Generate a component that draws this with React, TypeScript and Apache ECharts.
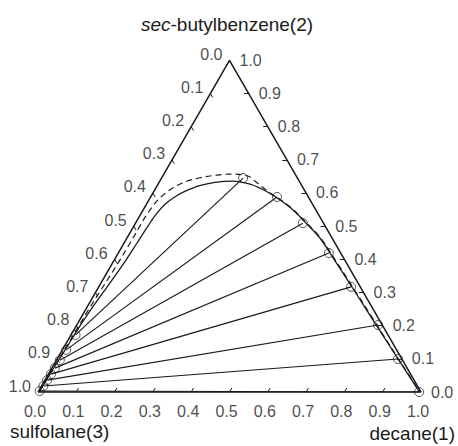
import React, { useEffect, useRef } from "react";
import * as echarts from "echarts";

// Liquid–liquid equilibrium of decane(1) + sec-butylbenzene(2) + sulfolane(3)
// Compositions are mole fractions (x1 = decane, x2 = sec-butylbenzene).

// Experimental tie lines: raffinate (decane-rich) phase
const tieRaffinateX1 = [0.213, 0.33, 0.437, 0.55, 0.659, 0.787, 0.89, 0.995];
const tieRaffinateX2 = [0.645, 0.588, 0.509, 0.419, 0.317, 0.202, 0.0995, 0.0];
// Experimental tie lines: extract (sulfolane-rich) phase
const tieExtractX1 = [0.012, 0.01, 0.009, 0.008, 0.007, 0.006, 0.005, 0.003];
const tieExtractX2 = [0.172, 0.127, 0.096, 0.072, 0.054, 0.036, 0.018, 0.003];

// Calculated binodal curve (solid)
const solidX1 = [
  0.003, 0.004, 0.006, 0.008, 0.01, 0.014, 0.02, 0.026, 0.031, 0.034, 0.037, 0.041,
  0.05, 0.065, 0.08, 0.111, 0.146, 0.19, 0.24, 0.285, 0.332, 0.385, 0.444, 0.503,
  0.573, 0.679, 0.784, 0.89, 0.943, 0.996,
];
const solidX2 = [
  0.0, 0.05, 0.1, 0.15, 0.2, 0.25, 0.3, 0.35, 0.4, 0.45, 0.5, 0.54,
  0.568, 0.59, 0.604, 0.622, 0.632, 0.636, 0.627, 0.609, 0.585, 0.553, 0.51, 0.465,
  0.4, 0.3, 0.2, 0.1, 0.05, 0.0,
];

// Calculated binodal curve (dashed)
const dashedX1 = [
  0.003, 0.004, 0.005, 0.006, 0.007, 0.008, 0.01, 0.013, 0.015, 0.016, 0.016, 0.017,
  0.024, 0.04, 0.065, 0.1, 0.14, 0.175, 0.205, 0.228, 0.256, 0.306, 0.334, 0.387,
  0.446, 0.505, 0.575, 0.681, 0.786, 0.891, 0.944, 0.996,
];
const dashedX2 = [
  0.0, 0.05, 0.1, 0.15, 0.2, 0.25, 0.3, 0.35, 0.4, 0.45, 0.5, 0.54,
  0.58, 0.61, 0.632, 0.646, 0.654, 0.657, 0.655, 0.649, 0.631, 0.6, 0.585, 0.553,
  0.51, 0.465, 0.4, 0.3, 0.2, 0.1, 0.05, 0.0,
];

// Axis graduations
const tickValues = [0, 0.1, 0.2, 0.3, 0.4, 0.5, 0.6, 0.7, 0.8, 0.9, 1.0];
const tickLabels = ["0.0", "0.1", "0.2", "0.3", "0.4", "0.5", "0.6", "0.7", "0.8", "0.9", "1.0"];

const H = Math.sqrt(3) / 2;
// ternary (x1, x2) -> cartesian position inside the unit triangle
const toXY = (x1: number, x2: number): [number, number] => [x1 + x2 / 2, x2 * H];

const FONT = "'Liberation Sans', Arial, Helvetica, sans-serif";
const INK = "#1a1a1a";
const TICK = 0.012;

export default function App() {
  const ref = useRef<HTMLDivElement>(null);

  useEffect(() => {
    if (!ref.current) return;
    const chart = echarts.init(ref.current, null, { renderer: "svg" });

    const edge = [toXY(0, 0), toXY(1, 0), toXY(0, 1), toXY(0, 0)];

    const tickSegs: { coords: [number, number][] }[] = [];
    tickValues.forEach((v, i) => {
      if (i === 0 || i === tickValues.length - 1) return;
      // bottom edge (decane)
      tickSegs.push({ coords: [toXY(v, 0), toXY(v, TICK)] });
      // left edge (sulfolane), x3 = v
      tickSegs.push({ coords: [toXY(0, 1 - v), toXY(TICK, 1 - v - TICK)] });
      // right edge (sec-butylbenzene), x2 = v
      tickSegs.push({ coords: [toXY(1 - v, v), toXY(1 - v - TICK, v)] });
    });

    const tieSegs = tieRaffinateX1.map((_, i) => ({
      coords: [toXY(tieExtractX1[i], tieExtractX2[i]), toXY(tieRaffinateX1[i], tieRaffinateX2[i])],
    }));

    const points = [
      ...tieRaffinateX1.map((x, i) => toXY(x, tieRaffinateX2[i])),
      ...tieExtractX1.map((x, i) => toXY(x, tieExtractX2[i])),
    ];

    const labelStyle = { fontFamily: FONT, fontSize: 16, color: INK };

    const bottomLabels = tickValues.map((v, i) => ({ value: toXY(v, 0), name: tickLabels[i] }));
    const leftLabels = tickValues.map((v, i) => ({ value: toXY(0, 1 - v), name: tickLabels[i] }));
    const rightLabels = tickValues.map((v, i) => ({ value: toXY(1 - v, v), name: tickLabels[i] }));

    const labelSeries = (data: any[], align: string, offset: number[]) => ({
      type: "scatter",
      data,
      symbolSize: 0,
      silent: true,
      clip: false,
      label: {
        show: true,
        position: "inside",
        formatter: (p: any) => p.name,
        align,
        verticalAlign: "middle",
        offset,
        ...labelStyle,
      },
    });

    chart.setOption({
      animation: false,
      backgroundColor: "#ffffff",
      grid: { left: 38, top: 60.3, width: 383, height: 331.7 },
      xAxis: { type: "value", min: 0, max: 1, show: false },
      yAxis: { type: "value", min: 0, max: H, show: false },
      series: [
        {
          type: "line",
          data: edge,
          symbol: "none",
          clip: false,
          lineStyle: { color: INK, width: 1.5 },
        },
        {
          type: "lines",
          coordinateSystem: "cartesian2d",
          data: tickSegs,
          lineStyle: { color: INK, width: 1, opacity: 1 },
        },
        {
          type: "lines",
          coordinateSystem: "cartesian2d",
          data: tieSegs,
          lineStyle: { color: INK, width: 1.15, opacity: 1 },
        },
        {
          type: "line",
          data: dashedX1.map((x, i) => toXY(x, dashedX2[i])),
          symbol: "none",
          smooth: 0.35,
          clip: false,
          lineStyle: { color: INK, width: 1.2, type: [6, 4] },
        },
        {
          type: "line",
          data: solidX1.map((x, i) => toXY(x, solidX2[i])),
          symbol: "none",
          smooth: 0.35,
          clip: false,
          lineStyle: { color: INK, width: 1.3 },
        },
        {
          type: "scatter",
          data: points,
          symbol: "circle",
          symbolSize: 9,
          clip: false,
          itemStyle: { color: "transparent", borderColor: INK, borderWidth: 0.9 },
        },
        labelSeries(bottomLabels, "center", [-3, 19]),
        labelSeries(leftLabels, "right", [-7, -6]),
        labelSeries(rightLabels, "left", [10, 0]),
      ],
      graphic: [
        {
          type: "text",
          x: 227,
          y: 24,
          style: {
            text: "{i|sec}-butylbenzene(2)",
            rich: { i: { fontStyle: "italic", fontFamily: FONT, fontSize: 19, fill: INK } },
            fontFamily: FONT,
            fontSize: 19,
            fill: INK,
            align: "center",
            verticalAlign: "middle",
          },
        },
        {
          type: "text",
          x: 10,
          y: 431,
          style: {
            text: "sulfolane(3)",
            fontFamily: FONT,
            fontSize: 19,
            fill: INK,
            align: "left",
            verticalAlign: "middle",
          },
        },
        {
          type: "text",
          x: 455,
          y: 433,
          style: {
            text: "decane(1)",
            fontFamily: FONT,
            fontSize: 19,
            fill: INK,
            align: "right",
            verticalAlign: "middle",
          },
        },
      ],
    });

    return () => chart.dispose();
  }, []);

  return (
    <div
      ref={ref}
      style={{ position: "fixed", left: 0, top: 0, width: 458, height: 446, background: "#fff" }}
    />
  );
}
